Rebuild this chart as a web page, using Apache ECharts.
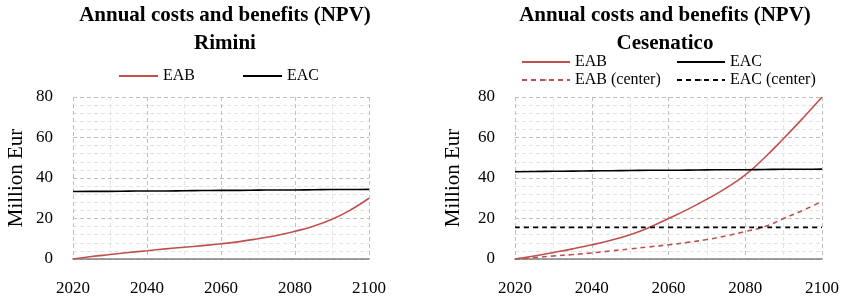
<!DOCTYPE html>
<html>
<head>
<meta charset="utf-8">
<script src="https://cdn.jsdelivr.net/npm/echarts@6/dist/echarts.min.js"></script>
<style>
  html, body { margin: 0; padding: 0; background: #fff; }
  #chart { width: 842px; height: 297px; }
</style>
</head>
<body>
<div id="chart"></div>
<script>
// years, every 5
const years = [2020, 2025, 2030, 2035, 2040, 2045, 2050, 2055, 2060, 2065, 2070, 2075, 2080, 2085, 2090, 2095, 2100];
const xTicks = [2020, 2040, 2060, 2080, 2100];
const yTicks = [0, 20, 40, 60, 80];

// Rimini
const riminiEAB = [0, 1.2, 2.2, 3.2, 4.1, 5.0, 5.8, 6.6, 7.5, 8.6, 10.0, 11.6, 13.7, 16.2, 19.6, 24.2, 30.0];
const riminiEAC = [33.3, 33.4, 33.4, 33.5, 33.6, 33.6, 33.7, 33.8, 33.9, 33.9, 34.0, 34.1, 34.1, 34.2, 34.3, 34.3, 34.4];

// Cesenatico
const cesEAB = [0, 1.5, 3.2, 5.0, 7.0, 9.3, 12.0, 15.6, 20.0, 24.5, 29.5, 35.0, 41.5, 50.0, 59.5, 69.5, 80.0];
const cesEAC = [43.1, 43.2, 43.3, 43.4, 43.5, 43.6, 43.7, 43.8, 43.8, 43.9, 44.0, 44.1, 44.1, 44.2, 44.3, 44.3, 44.4];
const cesEABCenter = [0, 0.7, 1.5, 2.2, 3.0, 4.0, 5.0, 6.0, 7.0, 8.2, 9.6, 11.4, 13.6, 15.9, 20.0, 24.0, 28.5];
const cesEACCenter = [15.6, 15.6, 15.6, 15.6, 15.6, 15.6, 15.6, 15.6, 15.6, 15.6, 15.6, 15.6, 15.6, 15.6, 15.6, 15.6, 15.6];

const FONT = '"Liberation Serif", "DejaVu Serif", serif';
const RED = '#c0504d';
const BLACK = '#000000';

function pairs(vals) {
  return years.map((y, i) => [y, vals[i]]);
}

function xAxisOf(gridIndex) {
  return {
    type: 'value',
    gridIndex: gridIndex,
    min: xTicks[0],
    max: xTicks[xTicks.length - 1],
    interval: xTicks[1] - xTicks[0],
    axisLine: { show: true, lineStyle: { color: '#808080', width: 1.5 } },
    axisTick: { show: false },
    axisLabel: { color: '#000', fontFamily: FONT, fontSize: 17, margin: 21, formatter: v => String(v) },
    splitLine: { show: true, lineStyle: { color: '#bfbfbf', type: [4, 3], width: 1 } },
    minorTick: { show: false, splitNumber: 2 },
    minorSplitLine: { show: true, lineStyle: { color: '#e4e4e4', type: [4, 3], width: 1 } }
  };
}

function yAxisOf(gridIndex, gap) {
  return {
    type: 'value',
    gridIndex: gridIndex,
    min: yTicks[0],
    max: yTicks[yTicks.length - 1],
    interval: yTicks[1] - yTicks[0],
    name: 'Million Eur',
    nameLocation: 'middle',
    nameGap: gap,
    nameTextStyle: { color: '#000', fontFamily: FONT, fontSize: 21 },
    axisLine: { show: false },
    axisTick: { show: false },
    axisLabel: { color: '#000', fontFamily: FONT, fontSize: 17, margin: 20 },
    splitLine: { show: true, lineStyle: { color: '#bfbfbf', type: [4, 3], width: 1 } },
    minorTick: { show: false, splitNumber: 5 },
    minorSplitLine: { show: true, lineStyle: { color: '#e4e4e4', type: [4, 3], width: 1 } }
  };
}

function line(name, idx, vals, color, dashed) {
  return {
    name: name,
    type: 'line',
    xAxisIndex: idx,
    yAxisIndex: idx,
    data: pairs(vals),
    smooth: true,
    symbol: 'none',
    lineStyle: { color: color, width: 1.6, type: dashed ? [5, 4] : 'solid' },
    itemStyle: { color: color }
  };
}

// tiny itemHeight keeps the legend symbol dot hidden on the line
function legendItem(name, left, centerY, width) {
  return {
    data: [name],
    left: left,
    top: centerY - 8,
    itemWidth: width,
    itemHeight: 2,
    itemGap: 5,
    padding: 0,
    selectedMode: false,
    textStyle: { color: '#000', fontFamily: FONT, fontSize: 16, lineHeight: 16 }
  };
}

function titleOf(text, x) {
  return {
    text: text,
    left: x,
    top: 2,
    textAlign: 'center',
    padding: 0,
    textStyle: { color: '#000', fontFamily: FONT, fontSize: 21, fontWeight: 'bold', lineHeight: 28 }
  };
}

const option = {
  backgroundColor: '#fff',
  animation: false,
  title: [
    titleOf('Annual costs and benefits (NPV)\nRimini', 225),
    titleOf('Annual costs and benefits (NPV)\nCesenatico', 665)
  ],
  legend: [
    legendItem('EAB', 118, 76, 39),
    legendItem('EAC', 242, 76, 39),
    legendItem('EAB', 521, 62, 48),
    legendItem('EAC', 676, 62, 48),
    legendItem('EAB (center)', 521, 80, 48),
    legendItem('EAC (center)', 676, 80, 48)
  ],
  grid: [
    { left: 73, top: 97, width: 296, height: 162 },
    { left: 515, top: 97, width: 309, height: 162 }
  ],
  xAxis: [xAxisOf(0), xAxisOf(1)],
  yAxis: [yAxisOf(0, 46), yAxisOf(1, 51)],
  series: [
    line('EAB', 0, riminiEAB, RED, false),
    line('EAC', 0, riminiEAC, BLACK, false),
    line('EAB', 1, cesEAB, RED, false),
    line('EAC', 1, cesEAC, BLACK, false),
    line('EAB (center)', 1, cesEABCenter, RED, true),
    line('EAC (center)', 1, cesEACCenter, BLACK, true)
  ]
};

const myChart = echarts.init(document.getElementById('chart'));
myChart.setOption(option);
</script>
</body>
</html>
